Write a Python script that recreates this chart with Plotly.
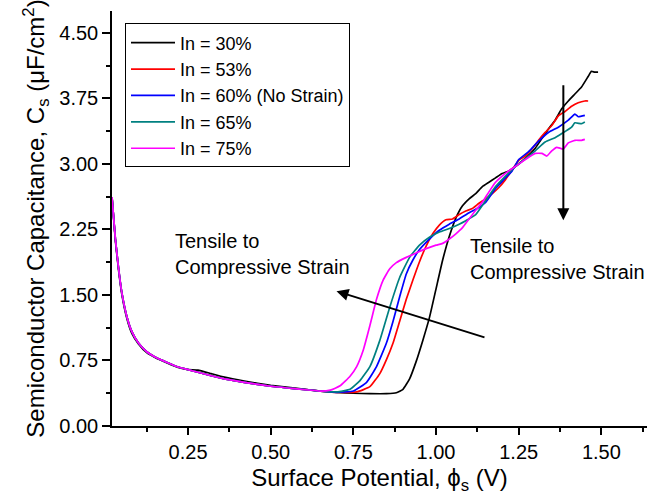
import plotly.graph_objects as go

# Surface potential (V) vs semiconductor capacitance (uF/cm^2) for several In fractions
labels = ["In = 30%", "In = 53%", "In = 60% (No Strain)", "In = 65%", "In = 75%"]
colors = ["#000000", "#ff0000", "#0000ff", "#008080", "#ff00ff"]

# shared depletion region (all compositions nearly overlap here)
x_low = [0.02, 0.03, 0.04, 0.05, 0.065, 0.08, 0.10, 0.125, 0.15, 0.185, 0.22, 0.25,
         0.28, 0.32, 0.36, 0.42, 0.50, 0.58, 0.65]
y_low = [2.62, 2.15, 1.80, 1.52, 1.25, 1.08, 0.95, 0.85, 0.79, 0.73, 0.675, 0.645,
         0.615, 0.575, 0.54, 0.50, 0.455, 0.425, 0.40]
y_low_30 = [2.62, 2.13, 1.78, 1.50, 1.23, 1.06, 0.94, 0.84, 0.785, 0.725, 0.67, 0.645,
            0.64, 0.60, 0.56, 0.515, 0.465, 0.43, 0.40]

x_30 = [0.70, 0.75, 0.80, 0.85, 0.88, 0.90, 0.92, 0.94, 0.96, 0.98, 1.00, 1.02, 1.04,
        1.06, 1.08, 1.10, 1.12, 1.14, 1.16, 1.18, 1.20, 1.22, 1.24, 1.26, 1.28, 1.30,
        1.32, 1.34, 1.36, 1.38, 1.40, 1.42, 1.44, 1.46, 1.47, 1.48, 1.49]
y_30 = [0.385, 0.375, 0.37, 0.37, 0.38, 0.42, 0.54, 0.74, 0.98, 1.24, 1.57, 1.90, 2.17,
        2.38, 2.52, 2.60, 2.66, 2.74, 2.79, 2.84, 2.89, 2.92, 2.97, 3.03, 3.10, 3.18,
        3.29, 3.40, 3.50, 3.63, 3.72, 3.80, 3.88, 4.00, 4.06, 4.05, 4.05]

x_53 = [0.70, 0.76, 0.80, 0.83, 0.85, 0.87, 0.89, 0.91, 0.93, 0.95, 0.97, 0.99, 1.01,
        1.03, 1.05, 1.07, 1.09, 1.11, 1.13, 1.15, 1.17, 1.19, 1.21, 1.23, 1.25, 1.27,
        1.29, 1.31, 1.33, 1.35, 1.37, 1.39, 1.41, 1.43, 1.45, 1.46]
y_53 = [0.385, 0.39, 0.45, 0.60, 0.76, 0.95, 1.20, 1.45, 1.67, 1.88, 2.06, 2.20, 2.30,
        2.36, 2.37, 2.42, 2.46, 2.49, 2.55, 2.60, 2.66, 2.73, 2.82, 2.93, 3.04, 3.09,
        3.17, 3.27, 3.36, 3.44, 3.55, 3.60, 3.66, 3.70, 3.72, 3.72]

x_60 = [0.70, 0.75, 0.79, 0.82, 0.85, 0.87, 0.89, 0.91, 0.93, 0.95, 0.98, 1.01, 1.04,
        1.07, 1.10, 1.12, 1.15, 1.18, 1.20, 1.23, 1.25, 1.28, 1.31, 1.34, 1.37, 1.40,
        1.42, 1.43, 1.45]
y_60 = [0.385, 0.40, 0.50, 0.68, 0.95, 1.20, 1.48, 1.74, 1.90, 2.02, 2.14, 2.24, 2.31,
        2.37, 2.44, 2.48, 2.56, 2.72, 2.80, 2.92, 3.05, 3.14, 3.26, 3.36, 3.42, 3.50,
        3.57, 3.54, 3.555]

x_65 = [0.70, 0.74, 0.77, 0.80, 0.83, 0.86, 0.89, 0.92, 0.95, 0.98, 1.01, 1.04, 1.07,
        1.09, 1.12, 1.15, 1.18, 1.21, 1.24, 1.27, 1.30, 1.33, 1.36, 1.39, 1.41, 1.42,
        1.44, 1.45]
y_65 = [0.39, 0.42, 0.52, 0.68, 0.98, 1.36, 1.70, 1.93, 2.07, 2.16, 2.22, 2.26, 2.31,
        2.35, 2.42, 2.58, 2.74, 2.86, 2.97, 3.06, 3.15, 3.25, 3.30, 3.37, 3.42, 3.47,
        3.46, 3.48]

x_75 = [0.68, 0.71, 0.74, 0.76, 0.78, 0.80, 0.82, 0.84, 0.86, 0.88, 0.91, 0.94, 0.97,
        1.00, 1.02, 1.04, 1.06, 1.08, 1.10, 1.12, 1.14, 1.16, 1.18, 1.20, 1.22, 1.24,
        1.27, 1.30, 1.32, 1.335, 1.35, 1.365, 1.385, 1.40, 1.42, 1.44, 1.45]
y_75 = [0.41, 0.46, 0.57, 0.68, 0.87, 1.15, 1.45, 1.67, 1.80, 1.87, 1.93, 1.98, 2.03,
        2.07, 2.09, 2.14, 2.20, 2.27, 2.37, 2.47, 2.56, 2.68, 2.79, 2.86, 2.92, 2.97,
        3.05, 3.12, 3.12, 3.09, 3.15, 3.19, 3.17, 3.24, 3.27, 3.27, 3.28]

series_x = [x_low + x_30, x_low + x_53, x_low + x_60, x_low + x_65, x_low + x_75]
series_y = [y_low_30 + y_30, y_low + y_53, y_low + y_60, y_low + y_65, y_low + y_75]

x_range = [0.02, 1.638]
y_range = [0, 4.75]
font = "Liberation Sans, Arial, sans-serif"

fig = go.Figure()
for name, col, xs, ys in zip(labels, colors, series_x, series_y):
    fig.add_trace(go.Scatter(x=xs, y=ys, mode="lines", name=name,
                             line=dict(color=col, width=1.7, shape="spline", smoothing=0.4)))

axis_common = dict(showgrid=False, zeroline=False, linecolor="black", linewidth=1.5,
                   tickcolor="black", tickwidth=1.5)

fig.update_layout(
    width=647, height=495,
    margin=dict(l=112, r=0, t=11, b=69),
    plot_bgcolor="white", paper_bgcolor="white",
    font=dict(family=font, size=20, color="black"),
    xaxis=dict(range=x_range, tick0=0, dtick=0.25, tickformat=".2f", ticks="outside",
               ticklen=7, showline=True,
               minor=dict(dtick=0.125, tick0=0, ticks="outside", ticklen=4,
                          tickcolor="black", tickwidth=1.5),
               title=dict(text="Surface Potential, ϕ<sub>s</sub> (V)", standoff=15),
               **axis_common),
    xaxis2=dict(range=x_range, overlaying="x", side="top", tick0=0, dtick=0.25,
                ticks="inside", ticklen=5, showticklabels=False, showline=True,
                minor=dict(dtick=0.125, tick0=0, ticks="inside", ticklen=3,
                           tickcolor="black", tickwidth=1.5),
                **axis_common),
    yaxis=dict(range=y_range, tick0=0, dtick=0.75, tickformat=".2f", ticks="outside",
               ticklen=8, showline=True,
               minor=dict(dtick=0.375, tick0=0, ticks="outside", ticklen=4,
                          tickcolor="black", tickwidth=1.5),
               title=dict(text="Semiconductor Capacitance, C<sub>s</sub> (μF/cm<sup>2</sup>)",
                          standoff=8),
               **axis_common),
    yaxis2=dict(range=y_range, overlaying="y", side="right", tick0=0, dtick=0.75,
                ticks="inside", ticklen=5, showticklabels=False, showline=False,
                minor=dict(dtick=0.375, tick0=0, ticks="inside", ticklen=3,
                           tickcolor="black", tickwidth=1.5),
                showgrid=False, zeroline=False, tickcolor="black", tickwidth=1.5),
    legend=dict(x=0.0243, y=0.970, xanchor="left", yanchor="top",
                bgcolor="white", bordercolor="black", borderwidth=1,
                font=dict(size=18), tracegroupgap=0, itemwidth=44),
    showlegend=True,
)

# direction-of-strain labels and arrows
text_label = "Tensile to<br>Compressive Strain"
fig.add_annotation(x=0.203, y=1.968, text=text_label, showarrow=False, xanchor="left",
                   yanchor="middle", align="left", font=dict(size=20))
fig.add_annotation(x=1.097, y=1.917, text=text_label, showarrow=False, xanchor="left",
                   yanchor="middle", align="left", font=dict(size=20))
fig.add_annotation(x=0.699, y=1.543, ax=1.151, ay=1.009, xref="x", yref="y",
                   axref="x", ayref="y", text="", showarrow=True, arrowhead=2,
                   arrowsize=1.2, arrowwidth=2, arrowcolor="black")
fig.add_annotation(x=1.385, y=2.355, ax=1.385, ay=3.918, xref="x", yref="y",
                   axref="x", ayref="y", text="", showarrow=True, arrowhead=2,
                   arrowsize=1.2, arrowwidth=2, arrowcolor="black")

fig.write_html("out.html")
